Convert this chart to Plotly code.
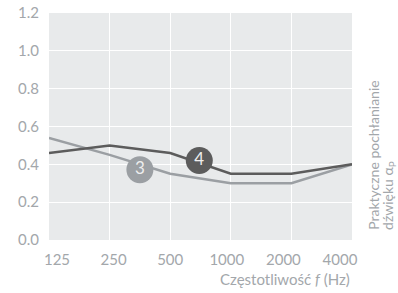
import plotly.graph_objects as go

categories = ["125", "250", "500", "1000", "2000", "4000"]
series4 = [0.46, 0.50, 0.46, 0.35, 0.35, 0.40]
series3 = [0.54, 0.45, 0.35, 0.30, 0.30, 0.40]
y_ticks = [0.0, 0.2, 0.4, 0.6, 0.8, 1.0, 1.2]
badge_labels = ["3", "4"]
badge_x = [1.5, 2.48]
badge_y = [0.372, 0.42]

FONT = "Lato"
TXT = "#a3a7ab"
DARK = "#5c5c5c"
LIGHT = "#9b9fa3"

xs = list(range(len(categories)))

fig = go.Figure()
fig.add_trace(go.Scatter(x=xs, y=series3, mode="lines",
                         line=dict(color=LIGHT, width=2.5), showlegend=False, hoverinfo="skip"))
fig.add_trace(go.Scatter(x=xs, y=series4, mode="lines",
                         line=dict(color=DARK, width=2.5), showlegend=False, hoverinfo="skip"))
fig.add_trace(go.Scatter(x=badge_x, y=badge_y, mode="markers+text",
                         text=badge_labels, textposition="middle center",
                         textfont=dict(family=FONT, size=17, color="#eeeeee"),
                         marker=dict(size=27, color=[LIGHT, DARK], line=dict(width=0)),
                         showlegend=False, hoverinfo="skip"))

fig.update_layout(
    width=398, height=293,
    margin=dict(l=49, r=46, t=13, b=53),
    paper_bgcolor="white",
    plot_bgcolor="#e8eaeb",
    font=dict(family=FONT, color=TXT, size=14),
    xaxis=dict(range=[0, len(categories) - 1], tickmode="array", tickvals=xs,
               showticklabels=False, showgrid=True, gridcolor="white", gridwidth=1.2,
               zeroline=False, showline=False, ticks="", automargin=False),
    xaxis2=dict(overlaying="x", range=[-0.141, len(categories) - 1 + 0.212],
                tickmode="array", tickvals=xs, ticktext=categories,
                showgrid=False, zeroline=False, showline=False, ticks="",
                side="bottom", anchor="y", ticklabelstandoff=9, automargin=False,
                tickfont=dict(family=FONT, size=15, color=TXT)),
    yaxis=dict(range=[0, 1.2], tickmode="array", tickvals=y_ticks,
               ticktext=[f"{v:.1f}" for v in y_ticks],
               showgrid=True, gridcolor="white", gridwidth=1.2,
               zeroline=False, showline=False, ticks="", ticklabelstandoff=9,
               automargin=False,
               tickfont=dict(family=FONT, size=15, color=TXT)),
)
# invisible trace to activate xaxis2
fig.add_trace(go.Scatter(x=[0], y=[None], xaxis="x2", yaxis="y", showlegend=False,
                         hoverinfo="skip", mode="markers", marker=dict(opacity=0)))

fig.add_annotation(text="Częstotliwość <i>f</i> (Hz)", xref="paper", yref="paper",
                   x=1.0, y=-0.172, xanchor="right", yanchor="middle", showarrow=False,
                   font=dict(family=FONT, size=15, color=TXT))
fig.add_annotation(text="Praktyczne pochłanianie", xref="paper", yref="paper",
                   x=1.07, y=0.035, xanchor="center", yanchor="bottom", textangle=-90,
                   showarrow=False, font=dict(family=FONT, size=14, color=TXT))
fig.add_annotation(text="dźwięku α<sub>P</sub>", xref="paper", yref="paper",
                   x=1.12, y=0.035, xanchor="center", yanchor="bottom", textangle=-90,
                   showarrow=False, font=dict(family=FONT, size=14, color=TXT))

fig.write_html("out.html", config={"displayModeBar": False},
               post_script="document.body.style.margin='0';document.body.style.overflow='hidden';")
